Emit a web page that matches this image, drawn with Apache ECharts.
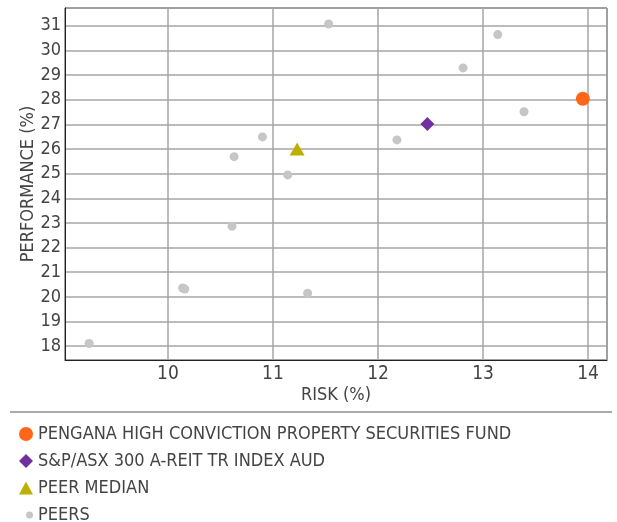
<!DOCTYPE html>
<html>
<head>
<meta charset="utf-8">
<script src="https://cdn.jsdelivr.net/npm/echarts@6/dist/echarts.min.js"></script>
<style>
html,body{margin:0;padding:0;background:#fff;}
#chart{width:617px;height:522px;}
</style>
</head>
<body>
<div id="chart"></div>
<script>
// Data
const seriesNames = [
  'PENGANA HIGH CONVICTION PROPERTY SECURITIES FUND',
  'S&P/ASX 300 A-REIT TR INDEX AUD',
  'PEER MEDIAN',
  'PEERS'
];
const fundPoint = [[13.95, 28.04]];
const indexPoint = [[12.47, 27.01]];
const medianPoint = [[11.23, 26.0]];
const peerRisk = [10.63, 10.90, 11.14, 11.53, 13.14, 12.81, 13.39, 12.18, 10.61, 10.14, 10.16, 9.25, 11.33];
const peerPerf = [25.69, 26.49, 24.95, 31.07, 30.64, 29.29, 27.51, 26.37, 22.87, 20.36, 20.32, 18.11, 20.15];
const xTicks = [10, 11, 12, 13, 14];
const yTicks = [18, 19, 20, 21, 22, 23, 24, 25, 26, 27, 28, 29, 30, 31];

const peerPoints = peerRisk.map((r, i) => [r, peerPerf[i]]);
const FONT = '"DejaVu Sans Condensed", "Liberation Sans Narrow", sans-serif';
const TXT = '#444';

const chart = echarts.init(document.getElementById('chart'), null, {renderer: 'canvas'});
const labelFmt = (ticks) => (v) => ticks.some(t => Math.abs(t - v) < 1e-6) ? String(Math.round(v)) : '';

const legendBase = {
  orient: 'vertical',
  textStyle: {fontFamily: FONT, fontSize: 18, color: TXT},
  itemGap: 0,
  padding: 0,
  selectedMode: false
};

chart.setOption({
  animation: false,
  backgroundColor: '#fff',
  grid: {left: 65, right: 10, top: 8, bottom: 162, show: true, borderColor: '#222', borderWidth: 1},
  xAxis: {
    type: 'value', min: 9.02, max: 14.18, minInterval: 1, maxInterval: 1, splitNumber: 6,
    name: 'RISK (%)', nameLocation: 'middle', nameGap: 26, nameMoveOverlap: false,
    nameTextStyle: {fontFamily: FONT, fontSize: 18, color: TXT, verticalAlign: 'top'},
    axisLine: {show: true, lineStyle: {color: '#222', width: 1}},
    axisTick: {show: false},
    axisLabel: {fontFamily: FONT, fontSize: 19, color: TXT, margin: 5, formatter: labelFmt(xTicks), showMinLabel: false, showMaxLabel: false},
    splitLine: {show: true, lineStyle: {color: '#a6a6a6', width: 1.5}}
  },
  yAxis: {
    type: 'value', min: 17.44, max: 31.72, minInterval: 1, maxInterval: 1, splitNumber: 14,
    name: 'PERFORMANCE (%)', nameLocation: 'middle', nameGap: 28, nameMoveOverlap: false,
    nameTextStyle: {fontFamily: FONT, fontSize: 18, color: TXT, verticalAlign: 'bottom'},
    axisLine: {show: true, lineStyle: {color: '#222', width: 1}},
    axisTick: {show: false},
    axisLabel: {fontFamily: FONT, fontSize: 18, color: TXT, margin: 4, formatter: labelFmt(yTicks), showMinLabel: false, showMaxLabel: false},
    splitLine: {show: true, lineStyle: {color: '#a6a6a6', width: 1.5}}
  },
  legend: [
    Object.assign({}, legendBase, {left: 19, top: 425, itemWidth: 14, itemHeight: 14, data: [seriesNames[0]]}),
    Object.assign({}, legendBase, {left: 19, top: 452, itemWidth: 14, itemHeight: 14, data: [seriesNames[1]]}),
    Object.assign({}, legendBase, {left: 19, top: 479, itemWidth: 14, itemHeight: 13, data: [seriesNames[2]]}),
    Object.assign({}, legendBase, {left: 26, top: 506, itemWidth: 7, itemHeight: 7, data: [{name: seriesNames[3], icon: 'circle'}]})
  ],
  graphic: [{
    type: 'line', shape: {x1: 10, y1: 412, x2: 612, y2: 412},
    style: {stroke: '#555', lineWidth: 1}
  }],
  series: [
    {name: seriesNames[3], type: 'scatter', data: peerPoints, symbol: 'circle', symbolSize: 9,
     itemStyle: {color: '#c6c6c6', opacity: 1}, z: 2},
    {name: seriesNames[2], type: 'scatter', data: medianPoint, symbol: 'triangle', symbolSize: [15, 13],
     itemStyle: {color: '#bdb000', opacity: 1}, z: 3},
    {name: seriesNames[1], type: 'scatter', data: indexPoint, symbol: 'diamond', symbolSize: [14, 14],
     itemStyle: {color: '#7030a0', opacity: 1}, z: 4},
    {name: seriesNames[0], type: 'scatter', data: fundPoint, symbol: 'circle', symbolSize: 14,
     itemStyle: {color: '#ff661a', opacity: 1}, z: 5}
  ]
});
</script>
</body>
</html>
